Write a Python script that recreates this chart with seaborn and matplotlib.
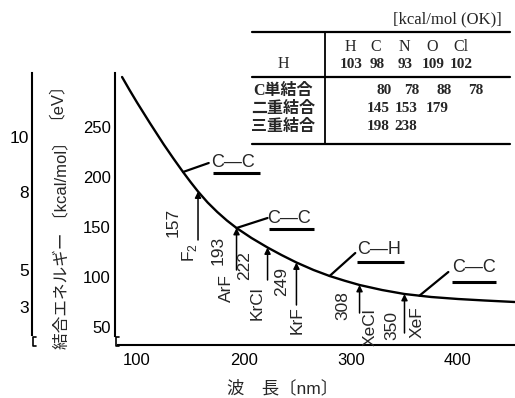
"""
Bond energy vs. wavelength chart (excimer laser lines marked on the curve)
"""
import numpy as np
import matplotlib
matplotlib.use("Agg")
import matplotlib.pyplot as plt
import seaborn as sns

# curve: wavelength [nm] -> bond energy [kcal/mol]
wavelength = [86, 93, 100, 112, 125, 134, 143, 150, 157, 166, 175, 184, 193, 207,
              222, 235, 249, 265, 280, 294, 308, 329, 350, 375, 400, 425, 453]
energy = [300, 287, 274.5, 254, 232.5, 218.5, 205, 195, 185.5, 174.5, 165, 156.5, 149, 139,
          129.5, 122, 114.5, 107, 101, 96.3, 92, 87, 83, 80, 78, 76.5, 75]

# laser lines
laser_names = ["F$_\\mathregular{2}$", "ArF", "KrCl", "KrF", "XeCl", "XeF"]
laser_nm = [157, 193, 222, 249, 308, 350]
laser_base = [137, 107, 97, 72, 64, 44]

# bond labels pointing at the curve
bond_labels = ["C—C", "C—C", "C—H", "C—C"]
bond_nm = [143, 193, 280, 364]

# eV scale as drawn (label, position on the kcal scale)
ev_labels = ["10", "8", "5", "3"]
ev_pos = [240, 185, 107, 70]

# table of bond energies
table_cols = ["H", "C", "N", "O", "Cl"]
table_rows = ["H", "C単結合", "二重結合", "三重結合"]
row_h = ["103", "98", "93", "109", "102"]
row_single = ["", "80", "78", "88", "78"]
row_double = ["", "145", "153", "179", ""]
row_triple = ["", "198", "238", "", ""]

sns.set_theme(style="white")
plt.rcParams["font.family"] = ["Liberation Sans", "Noto Sans CJK JP", "DejaVu Sans"]
plt.rcParams["mathtext.fontset"] = "custom"
plt.rcParams["mathtext.rm"] = "Liberation Sans"

W, H = 515, 398
fig = plt.figure(figsize=(W / 100, H / 100), dpi=100)
ax = fig.add_axes([115 / W, 53 / H, 400 / W, 272 / H])
ax.set_xlim(79.4, 453.3)
ax.set_ylim(32, 304)
ax.patch.set_alpha(0)

sns.lineplot(x=wavelength, y=energy, ax=ax, color="black", lw=1.7)

for s in ["top", "right"]:
    ax.spines[s].set_visible(False)
for s in ["left", "bottom"]:
    ax.spines[s].set_color("black")
    ax.spines[s].set_linewidth(1.5)
ax.spines["left"].set_bounds(41, 304)
ax.spines["bottom"].set_bounds(82, 453.3)
ax.set_xticks([100, 200, 300, 400])
ax.set_yticks([50, 100, 150, 200, 250])
ax.tick_params(axis="x", direction="in", length=4, width=1, pad=6, labelsize=12, colors="black")
ax.tick_params(axis="y", direction="in", length=2.5, width=1, pad=3, labelsize=12, colors="black")
ax.grid(False)

# laser arrows and labels
num_pos = [(133.6, 155), (175.7, 127), (201, 111), (235.5, 95), (292.5, 71), (338, 52)]
name_pos = [(149.5, 124), (184, 89), (212, 74), (249.5, 57), (318, 50), (361.7, 55)]
for i, nm in enumerate(laser_nm):
    tip = np.interp(nm, wavelength, energy)
    ax.annotate("", xy=(nm, tip), xytext=(nm, laser_base[i]),
                arrowprops=dict(arrowstyle="-|>", color="black", lw=1.1,
                                mutation_scale=9, shrinkA=0, shrinkB=0))
    ax.text(*num_pos[i], str(nm), rotation=90, ha="center", va="center", fontsize=12.5)
    ax.text(*name_pos[i], laser_names[i], rotation=90, ha="center", va="center", fontsize=12.5)

# bond labels with leaders and underlines
text_pos = [(190, 215), (242, 159), (326, 128), (415, 109)]
leader_end = [(167, 214), (222, 159), (304, 124), (391, 105)]
underline = [(171, 215, 204), (223, 265, 148), (306, 350, 115), (394, 436, 95)]
for i, lab in enumerate(bond_labels):
    y0 = np.interp(bond_nm[i], wavelength, energy)
    ax.plot([bond_nm[i], leader_end[i][0]], [y0, leader_end[i][1]], color="black", lw=1.6)
    ax.text(*text_pos[i], lab, ha="center", va="center", fontsize=13)
    x0, x1, yu = underline[i]
    ax.plot([x0, x1], [yu, yu], color="black", lw=2.2, solid_capstyle="butt")

# eV axis
ax_ev = fig.add_axes([32 / W, 53 / H, 0.01, 272 / H])
ax_ev.set_ylim(32, 304)
ax_ev.patch.set_alpha(0)
for s in ["top", "right", "bottom"]:
    ax_ev.spines[s].set_visible(False)
ax_ev.spines["left"].set_color("black")
ax_ev.spines["left"].set_linewidth(1.5)
ax_ev.spines["left"].set_bounds(42, 304)
ax_ev.set_xticks([])
ax_ev.set_yticks(ev_pos, ev_labels)
ax_ev.tick_params(axis="y", direction="in", length=2, width=1, pad=2, labelsize=12.5, colors="black")
ax_ev.grid(False)

# axis titles
fig.text(47 / W, 1 - 92 / H, "〔eV〕", rotation=90, ha="center", va="center", fontsize=12)
fig.text(61 / W, 1 - 241 / H, "結合エネルギー 〔kcal/mol〕", rotation=90,
         ha="center", va="center", fontsize=12)
fig.text(283 / W, 1 - 388 / H, "波　長〔nm〕", ha="center", va="center", fontsize=12.5)

# overlay in pixel coordinates for the table and the axis break marks
ov = fig.add_axes([0, 0, 1, 1])
ov.set_xlim(0, W)
ov.set_ylim(H, 0)
ov.axis("off")
ov.patch.set_alpha(0)

for x in [33, 116]:
    ov.plot([x + 3, x, x, x + 3], [337, 337, 346, 346], color="black", lw=1.2)

serif = ["Liberation Serif", "Noto Sans CJK JP"]
ov.text(502, 19, "[kcal/mol (OK)]", ha="right", va="center", fontsize=12, family=serif)
for yl in [32, 77, 144]:
    ov.plot([252, 510], [yl, yl], color="black", lw=1.6)
ov.plot([325, 325], [32, 144], color="black", lw=1.3)

head_x = [350, 376, 404, 432, 461]
for x, c in zip(head_x, table_cols):
    ov.text(x, 47, c, ha="center", va="center", fontsize=11.5, family=serif)

row_y = [64, 91, 109, 127]
row_x = [[351, 377, 405, 433, 461],
         [351, 384, 412, 444, 476],
         [351, 378, 406, 437, 461],
         [351, 378, 406, 437, 461]]
for r, (name, vals) in enumerate(zip(table_rows, [row_h, row_single, row_double, row_triple])):
    ov.text(283, row_y[r], name, ha="center", va="center", fontsize=11.5,
            family=serif, fontweight="bold" if r else "normal")
    for x, v in zip(row_x[r], vals):
        if v:
            ov.text(x, row_y[r], v, ha="center", va="center", fontsize=11,
                    family=serif, fontweight="bold")

plt.savefig("out.png", dpi=100)
